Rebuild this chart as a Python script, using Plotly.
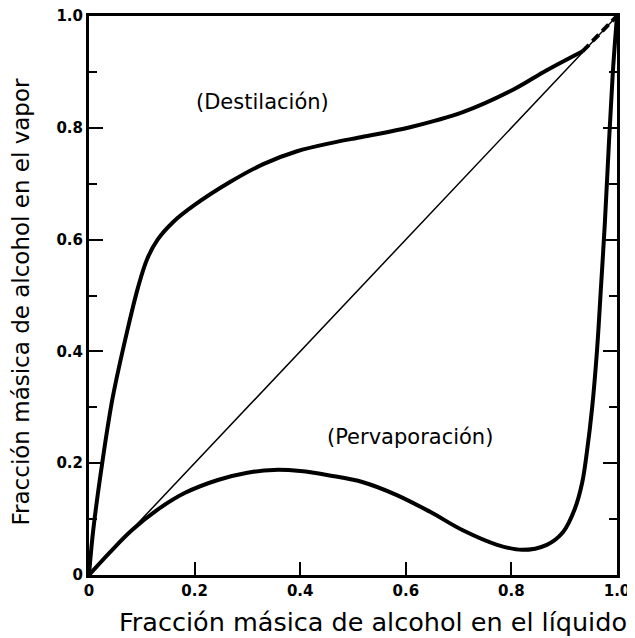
import plotly.graph_objects as go

# curva de destilacion (equilibrio liquido-vapor)
dest_x = [0, 0.008, 0.025, 0.045, 0.072, 0.093, 0.11, 0.13, 0.16, 0.2, 0.267,
          0.33, 0.394, 0.46, 0.519, 0.608, 0.708, 0.803, 0.867, 0.935]
dest_y = [0, 0.08, 0.2, 0.318, 0.435, 0.515, 0.565, 0.6, 0.632, 0.662, 0.703,
          0.735, 0.758, 0.773, 0.784, 0.801, 0.828, 0.868, 0.903, 0.937]
# tramo punteado hasta el extremo
dash_x = [0.935, 1.0]
dash_y = [0.937, 1.0]

# curva de pervaporacion
perv_x = [0, 0.04, 0.081, 0.13, 0.182, 0.244, 0.3, 0.35, 0.4, 0.456, 0.519,
          0.583, 0.646, 0.708, 0.773, 0.82, 0.867, 0.898, 0.92, 0.934, 0.943,
          0.953, 0.962, 0.97, 0.977, 0.985, 0.992, 1.0]
perv_y = [0, 0.041, 0.08, 0.117, 0.147, 0.17, 0.183, 0.188, 0.186, 0.178, 0.166,
          0.143, 0.113, 0.08, 0.054, 0.045, 0.054, 0.077, 0.118, 0.165, 0.22,
          0.3, 0.4, 0.52, 0.63, 0.778, 0.898, 1.0]

diag = [0, 1]

tick_vals = [0, 0.2, 0.4, 0.6, 0.8, 1.0]
tick_text = ['0', '0.2', '0.4', '0.6', '0.8', '1.0']

fig = go.Figure()
fig.add_trace(go.Scatter(x=diag, y=diag, mode='lines',
                         line=dict(color='black', width=1.5)))
fig.add_trace(go.Scatter(x=dest_x, y=dest_y, mode='lines',
                         line=dict(color='black', width=4, shape='spline', smoothing=1)))
fig.add_trace(go.Scatter(x=dash_x, y=dash_y, mode='lines',
                         line=dict(color='black', width=4, dash='9px,5px')))
fig.add_trace(go.Scatter(x=perv_x, y=perv_y, mode='lines',
                         line=dict(color='black', width=4, shape='spline', smoothing=1)))

fig.add_annotation(x=0.328, y=0.846, text='(Destilación)', showarrow=False,
                   font=dict(size=21, color='black'))
fig.add_annotation(x=0.608, y=0.247, text='(Pervaporación)', showarrow=False,
                   font=dict(size=21, color='black'))

# titulos de ejes como anotaciones para fijar su posicion
fig.add_annotation(xref='paper', yref='paper', x=0.538, y=-0.084,
                   text='Fracción másica de alcohol en el líquido', showarrow=False,
                   font=dict(size=25.5, color='black'), yanchor='middle')
fig.add_annotation(xref='paper', yref='paper', x=-0.128, y=0.49, textangle=-90,
                   text='Fracción másica de alcohol en el vapor', showarrow=False,
                   font=dict(size=23, color='black'), xanchor='center')

# la pagina deja 8px de margen al cuerpo, se descuentan aqui
fig.update_layout(
    width=627, height=630,
    margin=dict(l=81, r=18, t=8, b=63),
    plot_bgcolor='white', paper_bgcolor='white',
    showlegend=False,
    font=dict(family='DejaVu Sans', color='black'),
)
fig.update_xaxes(range=[0, 1], tickvals=tick_vals, ticktext=tick_text,
                 ticks='inside', ticklen=13, tickwidth=2, tickcolor='black',
                 showline=True, linewidth=3, linecolor='black', mirror=True,
                 showgrid=False, zeroline=False, automargin=False,
                 ticklabeloverflow='allow',
                 tickfont=dict(size=15, weight='bold'))
fig.update_yaxes(range=[0, 1], tickvals=tick_vals, ticktext=tick_text,
                 ticks='inside', ticklen=14, tickwidth=2, tickcolor='black',
                 minor=dict(dtick=0.1, ticks='inside', ticklen=8, tickwidth=2,
                            tickcolor='black'),
                 showline=True, linewidth=3, linecolor='black', mirror='ticks',
                 showgrid=False, zeroline=False, automargin=False,
                 ticklabeloverflow='allow',
                 tickfont=dict(size=15, weight='bold'))

fig.write_html('out.html')
